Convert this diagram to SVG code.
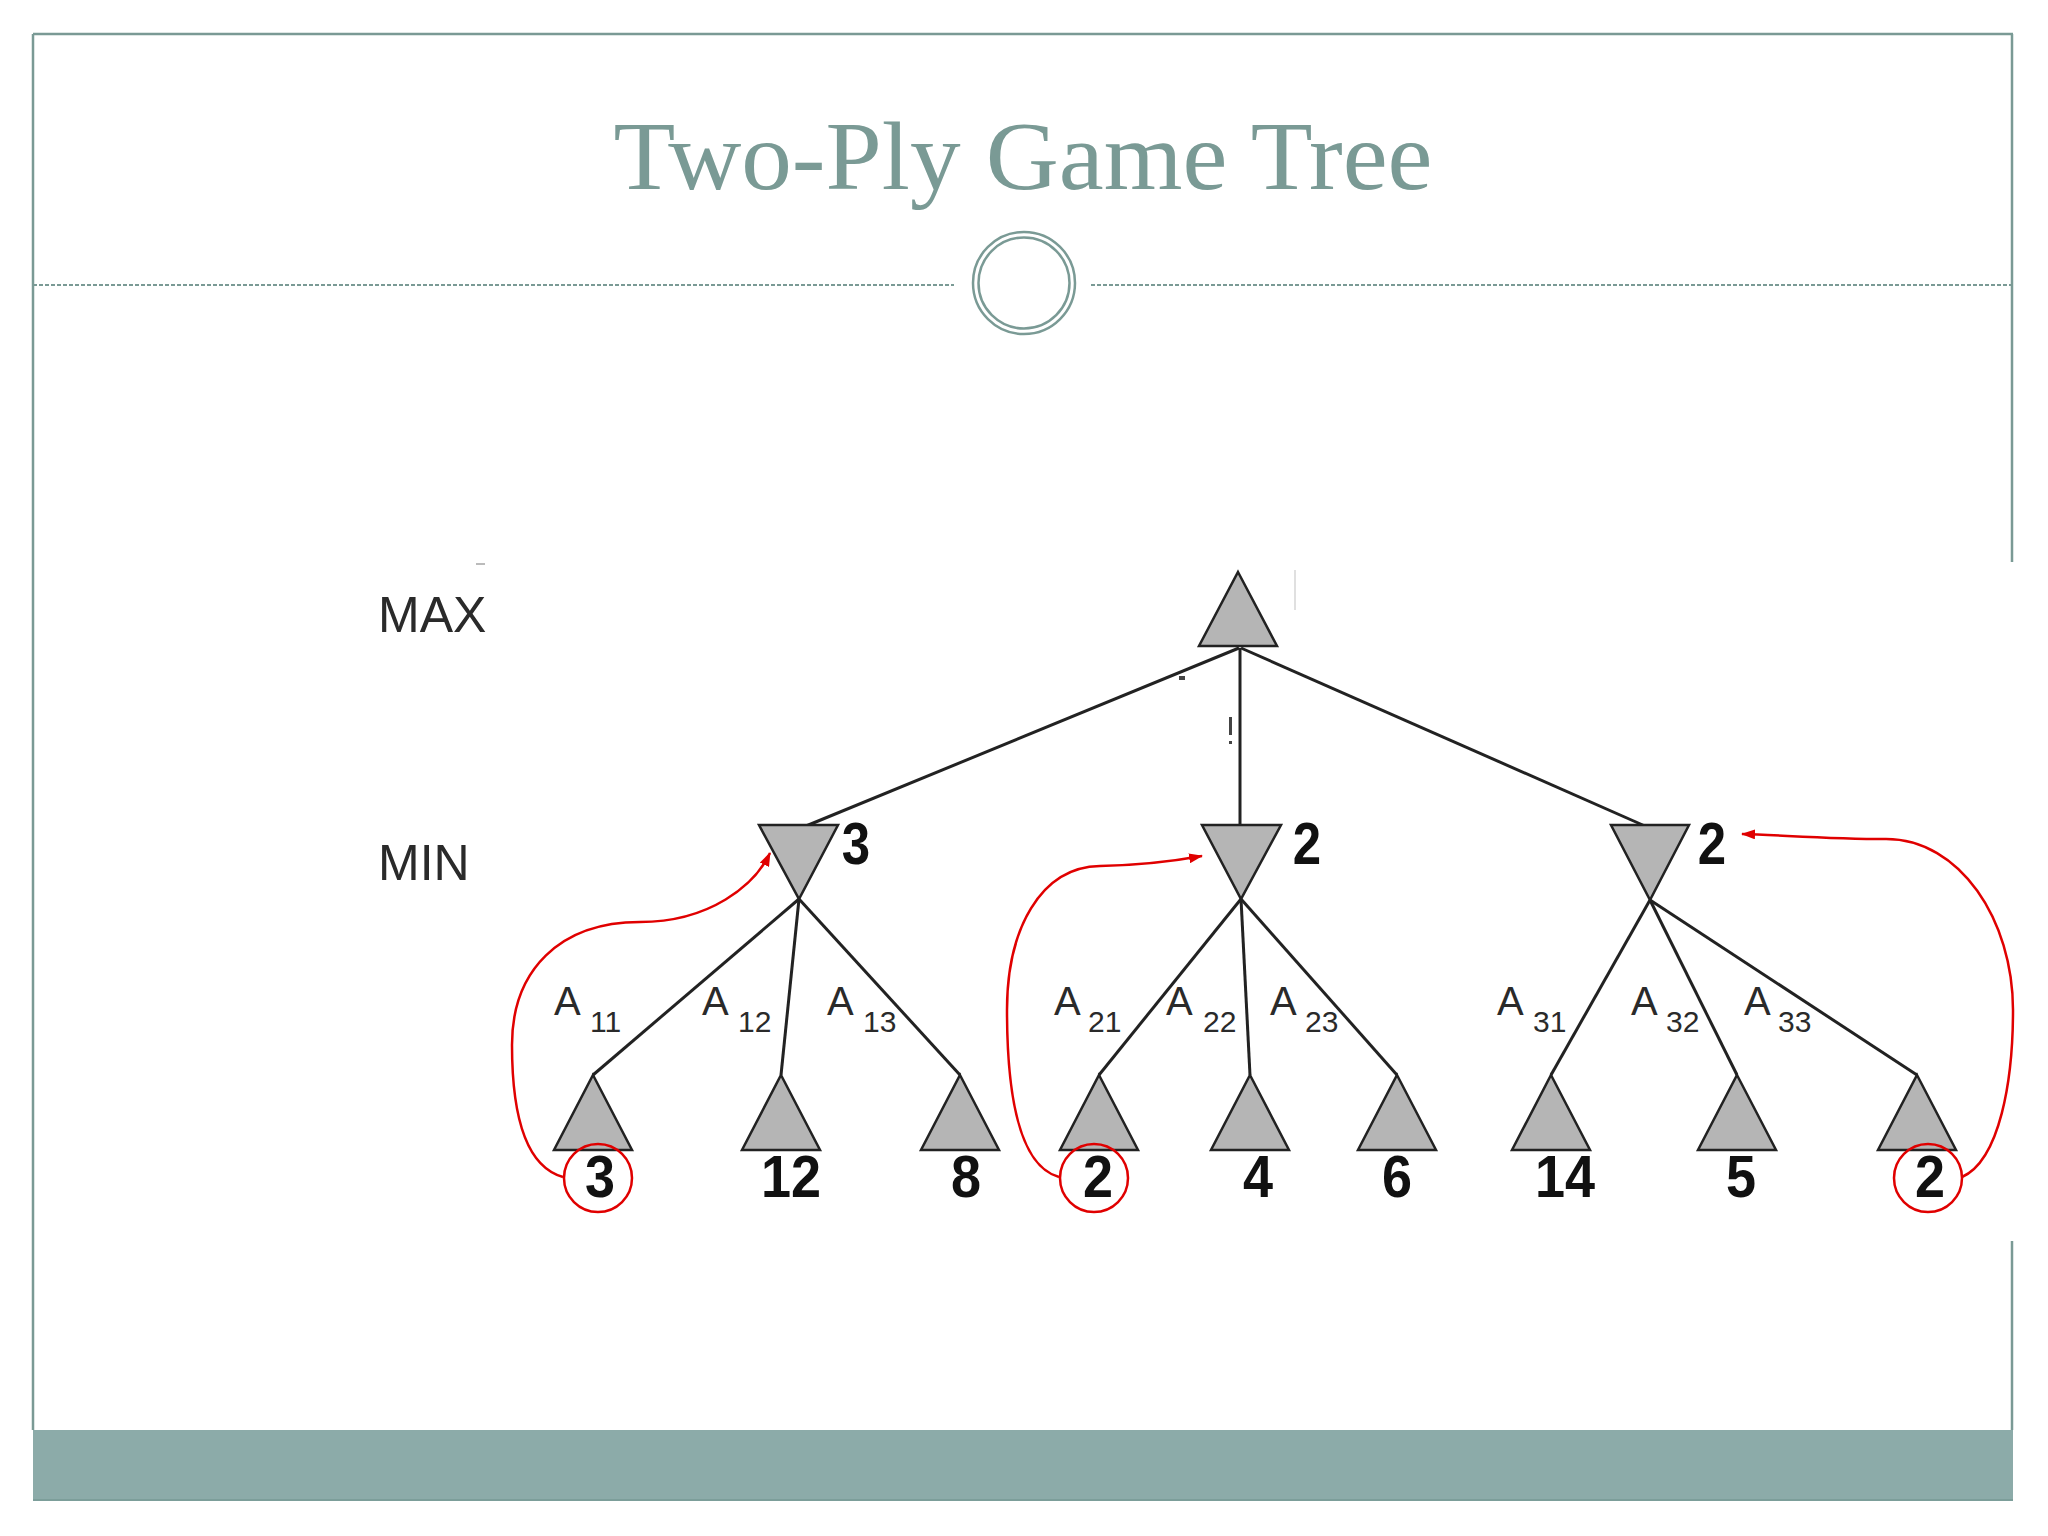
<svg xmlns="http://www.w3.org/2000/svg" width="2048" height="1536" viewBox="0 0 2048 1536">
<defs>
<style>
.frame{stroke:#7A9A95;stroke-width:2.5;fill:none}
.title{font-family:"Liberation Serif",serif;font-size:97px;fill:#7A9A95}
.lvl{font-family:"Liberation Sans",Arial,sans-serif;font-size:50px;fill:#2a2a2a}
.tri{fill:#b5b5b5;stroke:#222;stroke-width:2.5;stroke-linejoin:miter}
.edge{stroke:#222;stroke-width:3;fill:none}
.val{font-family:"Liberation Sans",Arial,sans-serif;font-weight:bold;font-size:60px;fill:#111;text-anchor:middle}
.a{font-family:"Liberation Sans",Arial,sans-serif;font-size:40px;fill:#2a2a2a}
.sub{font-family:"Liberation Sans",Arial,sans-serif;font-size:30px;fill:#2a2a2a}
.red{stroke:#e00000;stroke-width:2.5;fill:none}
</style>
<marker id="arr" markerWidth="14" markerHeight="10" refX="13" refY="5" orient="auto" markerUnits="userSpaceOnUse">
<path d="M0,0 L14,5 L0,10 z" fill="#e00000"/>
</marker>
</defs>
<rect width="2048" height="1536" fill="#fff"/>
<g id="frame">
<line class="frame" x1="33" y1="34" x2="2013" y2="34" stroke-width="3"/>
<line class="frame" x1="33" y1="34" x2="33" y2="1430"/>
<line class="frame" x1="2012" y1="34" x2="2012" y2="562"/>
<line class="frame" x1="2012" y1="1241" x2="2012" y2="1430"/>
<rect x="33" y="1430" width="1980" height="71" fill="#8CABA9"/>
<line x1="33" y1="1500" x2="2013" y2="1500" stroke="#7C9E9A" stroke-width="2"/>
</g>
<g id="header">
<text class="title" x="1023" y="189" text-anchor="middle" textLength="819" lengthAdjust="spacingAndGlyphs">Two-Ply Game Tree</text>
<line x1="33" y1="285" x2="954" y2="285" stroke="#7A9A95" stroke-width="2" stroke-dasharray="4 2"/>
<line x1="1091" y1="285" x2="2013" y2="285" stroke="#7A9A95" stroke-width="2" stroke-dasharray="4 2"/>
<circle cx="1024" cy="283" r="51" fill="none" stroke="#7A9A95" stroke-width="2.5"/>
<circle cx="1024" cy="283" r="45.5" fill="none" stroke="#7A9A95" stroke-width="2.5"/>
</g>
<g id="levels">
<text class="lvl" x="378" y="632">MAX</text>
<text class="lvl" x="378" y="880">MIN</text>
</g>
<g id="connectors">
<line class="edge" x1="1239" y1="648" x2="806" y2="826"/>
<line class="edge" x1="1240" y1="648" x2="1240" y2="826"/>
<line class="edge" x1="1241" y1="648" x2="1645" y2="826"/>
<line class="edge" x1="799" y1="899" x2="593" y2="1075"/>
<line class="edge" x1="799" y1="899" x2="781" y2="1075"/>
<line class="edge" x1="799" y1="899" x2="960" y2="1075"/>
<line class="edge" x1="1241" y1="899" x2="1099" y2="1075"/>
<line class="edge" x1="1241" y1="899" x2="1250" y2="1075"/>
<line class="edge" x1="1241" y1="899" x2="1397" y2="1075"/>
<line class="edge" x1="1650" y1="900" x2="1551" y2="1075"/>
<line class="edge" x1="1650" y1="900" x2="1737" y2="1075"/>
<line class="edge" x1="1650" y1="900" x2="1917" y2="1075"/>
</g>
<g id="root"><polygon class="tri" points="1238,572 1277,646 1199,646"/></g>
<g id="min1"><polygon class="tri" points="759,825 838,825 799,899"/>
<g transform="translate(856,864) scale(0.85,1)"><text class="val" x="0" y="0">3</text></g></g>
<g id="min2"><polygon class="tri" points="1202,825 1281,825 1241,899"/>
<g transform="translate(1307,864) scale(0.85,1)"><text class="val" x="0" y="0">2</text></g></g>
<g id="min3"><polygon class="tri" points="1611,825 1689,825 1650,900"/>
<g transform="translate(1712,864) scale(0.85,1)"><text class="val" x="0" y="0">2</text></g></g>
<g id="leaves">
<g id="leaf1"><polygon class="tri" points="593,1075 632,1150 554,1150"/><g transform="translate(600,1197) scale(0.9,1)"><text class="val">3</text></g></g>
<g id="leaf2"><polygon class="tri" points="781,1075 820,1150 742,1150"/><g transform="translate(791,1197) scale(0.9,1)"><text class="val">12</text></g></g>
<g id="leaf3"><polygon class="tri" points="960,1075 999,1150 921,1150"/><g transform="translate(966,1197) scale(0.9,1)"><text class="val">8</text></g></g>
<g id="leaf4"><polygon class="tri" points="1099,1075 1138,1150 1060,1150"/><g transform="translate(1098,1197) scale(0.9,1)"><text class="val">2</text></g></g>
<g id="leaf5"><polygon class="tri" points="1250,1075 1289,1150 1211,1150"/><g transform="translate(1258,1197) scale(0.9,1)"><text class="val">4</text></g></g>
<g id="leaf6"><polygon class="tri" points="1397,1075 1436,1150 1358,1150"/><g transform="translate(1397,1197) scale(0.9,1)"><text class="val">6</text></g></g>
<g id="leaf7"><polygon class="tri" points="1551,1075 1590,1150 1512,1150"/><g transform="translate(1565,1197) scale(0.9,1)"><text class="val">14</text></g></g>
<g id="leaf8"><polygon class="tri" points="1737,1075 1776,1150 1698,1150"/><g transform="translate(1741,1197) scale(0.9,1)"><text class="val">5</text></g></g>
<g id="leaf9"><polygon class="tri" points="1917,1075 1956,1150 1878,1150"/><g transform="translate(1930,1197) scale(0.9,1)"><text class="val">2</text></g></g>
</g>
<g id="edge-labels">
<text class="a" x="554" y="1015">A</text><text class="sub" x="590" y="1032">11</text>
<text class="a" x="702" y="1015">A</text><text class="sub" x="738" y="1032">12</text>
<text class="a" x="827" y="1015">A</text><text class="sub" x="863" y="1032">13</text>
<text class="a" x="1054" y="1015">A</text><text class="sub" x="1088" y="1032">21</text>
<text class="a" x="1166" y="1015">A</text><text class="sub" x="1203" y="1032">22</text>
<text class="a" x="1270" y="1015">A</text><text class="sub" x="1305" y="1032">23</text>
<text class="a" x="1497" y="1015">A</text><text class="sub" x="1533" y="1032">31</text>
<text class="a" x="1631" y="1015">A</text><text class="sub" x="1666" y="1032">32</text>
<text class="a" x="1744" y="1015">A</text><text class="sub" x="1778" y="1032">33</text>
</g>
<g id="annotations">
<circle class="red" cx="598" cy="1178" r="34"/>
<circle class="red" cx="1094" cy="1178" r="34"/>
<circle class="red" cx="1928" cy="1178" r="34"/>
<path class="red" marker-end="url(#arr)" d="M563,1177 C520,1165 512,1100 512,1045 C512,970 560,922 640,922 C710,922 755,885 770,853"/>
<path class="red" marker-end="url(#arr)" d="M1059,1177 C1015,1165 1007,1080 1007,1010 C1007,930 1040,867 1100,866 C1150,865 1180,860 1202,856"/>
<path class="red" marker-end="url(#arr)" d="M1962,1177 C2000,1160 2013,1080 2013,1010 C2013,920 1960,839 1886,839 C1830,839 1780,835 1742,834"/>
</g>
<g id="artifacts" fill="#444">
<rect x="1179" y="676" width="6" height="4"/>
<rect x="1229" y="717" width="3" height="18"/>
<rect x="1229" y="741" width="3" height="3"/>
<rect x="1294" y="570" width="2" height="40" fill="#e0e0e0"/>
<rect x="476" y="563" width="9" height="2" fill="#bbb"/>
</g>
</svg>
